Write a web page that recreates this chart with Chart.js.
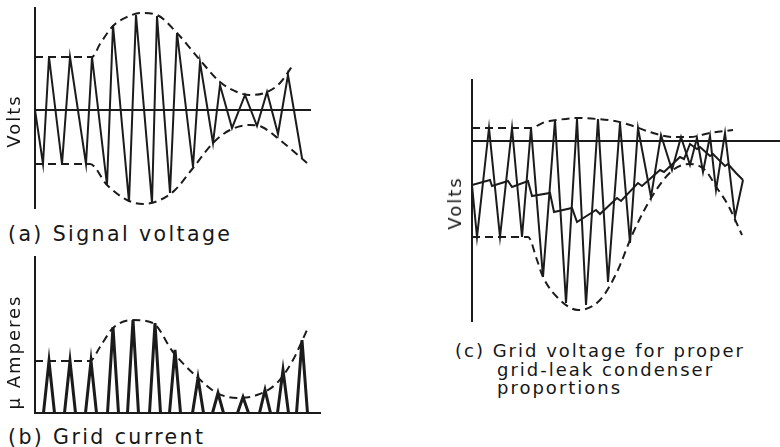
<!DOCTYPE html>
<html>
<head>
<meta charset="utf-8">
<script src="https://cdn.jsdelivr.net/npm/chart.js@4"></script>
<style>
  html, body { margin: 0; padding: 0; background: #fff; }
  #page { position: relative; width: 780px; height: 447px; overflow: hidden; background: #fff; }
  canvas { position: absolute; }
  .lbl {
    position: absolute;
    font-family: "DejaVu Sans", sans-serif;
    font-size: 18px;
    letter-spacing: 2px;
    line-height: 1;
    color: #161616;
    white-space: nowrap;
    z-index: 2;
  }
  .big { font-size: 20.5px; letter-spacing: 2.4px; }
  .rot { transform: translate(-50%, -50%) rotate(-90deg); }
</style>
</head>
<body>
<div id="page">
  <canvas id="chartA" width="320" height="216" style="left:0px;top:0px"></canvas>
  <canvas id="chartB" width="330" height="175" style="left:0px;top:250px"></canvas>
  <canvas id="chartC" width="340" height="252" style="left:440px;top:74px"></canvas>

  <div class="lbl rot" style="left:14px;top:121px">Volts</div>
  <div class="lbl big" style="left:8px;top:224px">(a) Signal voltage</div>
  <div class="lbl rot" style="left:14px;top:352px">μ Amperes</div>
  <div class="lbl big" style="left:8px;top:427px">(b) Grid current</div>
  <div class="lbl rot" style="left:455px;top:203px">Volts</div>
  <div class="lbl" style="left:455px;top:342px">(c) Grid voltage for proper</div>
  <div class="lbl" style="left:497px;top:361px">grid-leak condenser</div>
  <div class="lbl" style="left:497px;top:379px">proportions</div>
</div>
<script>
// (a) signal voltage: carrier peaks and the dashed envelope
const sigT = [0, 8, 14, 27, 35, 51, 57, 72, 78, 94, 101, 117, 122, 135, 142, 158, 165, 178, 185, 197, 210, 222, 232, 243, 253, 267];
const sigV = [0, -54, 53, -54, 53, -54, 53, -75, 85, -92, 95, -93, 94, -83, 77, -57, 48, -33, 25, -18, 15, -16, 18, -24, 35, -48];
const envTopT = [0, 57, 65, 78, 92, 106, 122, 142, 165, 185, 202, 215, 232, 245, 258];
const envTopV = [53, 53, 66, 84, 93, 97, 95, 77, 50, 28, 18, 15, 18, 27, 45];
const envBotT = [0, 55, 72, 92, 108, 125, 140, 158, 178, 195, 215, 227, 245, 272];
const envBotV = [-54, -54, -75, -90, -94, -90, -80, -58, -33, -20, -15, -17, -30, -53];

// (b) grid current pulses and their envelope
const pulseT = [14, 35, 56, 78, 98, 120, 140, 163, 183, 208, 230, 248, 267];
const pulseI = [52, 52, 52, 86, 93, 90, 63, 35, 20, 16, 23, 43, 73];
const curT = [0, 55, 65, 78, 98, 118, 138, 162, 182, 202, 222, 242, 258, 272];
const curI = [52, 52, 66, 85, 93, 90, 61, 36, 20, 15, 18, 30, 53, 83];

// (c) grid voltage, the grid bias staircase and the two envelopes
const gridT = [0, 5, 17, 28, 40, 50, 59, 71, 83, 94, 105, 114, 126, 136, 148, 158, 166, 179, 189, 200, 209, 218, 225, 231, 238, 244, 253, 263, 271];
const gridV = [-44, -96, 13, -96, 13, -96, 13, -136, 21, -162, 22, -164, 22, -141, 18, -102, 13, -56, 6, -29, 4, -24, 3, -31, 5, -49, 8, -76, -39];
const biasT = [0, 18, 20, 36, 40, 56, 60, 78, 82, 100, 105, 124, 128, 145, 149, 166, 170, 188, 192, 208, 212, 218, 225, 228, 238, 241, 253, 256, 264, 271];
const biasV = [-44, -39, -45, -40, -46, -40, -55, -52, -71, -67, -81, -69, -73, -57, -60, -42, -45, -29, -31, -16, -18, -3, -8, -6, -15, -13, -25, -23, -32, -39];
const cTopT = [0, 58, 73, 85, 105, 125, 143, 158, 181, 201, 218, 238, 261];
const cTopV = [13, 13, 19, 21, 23, 22, 20, 16, 8, 4, 4, 8, 11];
const cBotT = [0, 56, 65, 71, 88, 106, 128, 145, 161, 181, 201, 218, 233, 245, 256, 270];
const cBotV = [-96, -96, -119, -136, -159, -169, -159, -131, -92, -54, -29, -23, -29, -47, -64, -94];

const ink = "#1b1b1b";
const pulseHalfWidth = 5.5;

const pts = (xs, ys) => xs.map((x, i) => ({ x: x, y: ys[i] }));

const solid = (data, w) => ({
  data: data,
  borderColor: ink,
  borderWidth: w || 2,
  pointRadius: 0,
  tension: 0,
  spanGaps: false,
});

const dashed = (data) => ({
  data: data,
  borderColor: ink,
  borderWidth: 2,
  borderDash: [8, 5],
  pointRadius: 0,
  cubicInterpolationMode: "monotone",
});

function makeOptions(pad, xMax, yMin, yMax, zeroAxis) {
  return {
    responsive: false,
    animation: false,
    events: [],
    layout: { padding: pad, autoPadding: false },
    plugins: { legend: { display: false }, tooltip: { enabled: false } },
    scales: {
      x: {
        type: "linear",
        min: 0,
        max: xMax,
        position: zeroAxis ? { y: 0 } : "bottom",
        grid: { display: false, drawTicks: false },
        ticks: { display: false },
        border: { display: true, color: ink, width: 2 },
      },
      y: {
        type: "linear",
        min: yMin,
        max: yMax,
        position: "left",
        grid: { display: false, drawTicks: false },
        ticks: { display: false },
        border: { display: true, color: ink, width: 2 },
        afterFit: (s) => { s.width = 0; },
      },
    },
  };
}

// 1. Signal voltage
new Chart(document.getElementById("chartA"), {
  type: "line",
  data: {
    datasets: [
      solid(pts(sigT, sigV)),
      dashed(pts(envTopT, envTopV)),
      dashed(pts(envBotT, envBotV)),
    ],
  },
  options: makeOptions({ left: 35, top: 8, right: 10, bottom: 8 }, 275, -98, 102, true),
});

// 2. Grid current - each pulse is a narrow spike up from the baseline
const pulsePts = [];
pulseT.forEach((t, i) => {
  pulsePts.push({ x: t - pulseHalfWidth, y: 0 });
  pulsePts.push({ x: t, y: pulseI[i] });
  pulsePts.push({ x: t + pulseHalfWidth, y: 0 });
  pulsePts.push({ x: t, y: null });
});

new Chart(document.getElementById("chartB"), {
  type: "line",
  data: {
    datasets: [
      solid(pulsePts, 3),
      dashed(pts(curT, curI)),
    ],
  },
  options: makeOptions({ left: 35, top: 7, right: 10, bottom: 12 }, 285, 0, 156, false),
});

// 3. Grid voltage with grid-leak condenser
new Chart(document.getElementById("chartC"), {
  type: "line",
  data: {
    datasets: [
      solid(pts(gridT, gridV)),
      solid(pts(biasT, biasV)),
      dashed(pts(cTopT, cTopV)),
      dashed(pts(cBotT, cBotV)),
    ],
  },
  options: makeOptions({ left: 32, top: 6, right: 0, bottom: 5 }, 308, -180, 61, true),
});
</script>
</body>
</html>
